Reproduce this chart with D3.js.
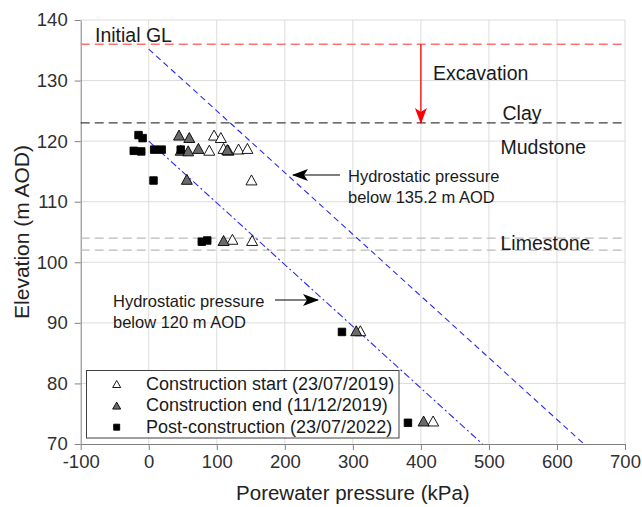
<!DOCTYPE html>
<html><head><meta charset="utf-8">
<script src="https://cdn.jsdelivr.net/npm/d3@7"></script>
<style>
body{margin:0;background:#fff;}
text{font-family:"Liberation Sans",Arial,sans-serif;}
</style></head>
<body><svg id="c" width="642" height="507"></svg>
<script>
// ---- data ----
const startP = [96, 106, 89, 110, 117, 132, 145, 151, 123, 152, 311, 418];
const startZ = [121, 120.6, 118.5, 118.8, 118.5, 118.7, 118.8, 113.6, 103.8, 103.6, 88.7, 73.8];
const endP = [44.5, 59.6, 47, 58, 73, 115.5, 56, 110, 305, 404];
const endZ = [121, 120.6, 118.5, 118.4, 118.8, 118.6, 113.7, 103.6, 88.7, 73.8];
const postP = [-15, -9, -22, -11, 8, 19, 47, 7, 78, 86, 284, 381];
const postZ = [121, 120.5, 118.4, 118.3, 118.6, 118.6, 118.6, 113.5, 103.4, 103.6, 88.5, 73.5];
const xTicks = [-100, 0, 100, 200, 300, 400, 500, 600, 700];
const yTicks = [70, 80, 90, 100, 110, 120, 130, 140];
const initialGL = 136, clayTop = 123, limeTop = 104, limeBot = 102;
const hydroTops = [135.2, 120];
const gammaW = 9.81;
const seriesNames = ["Construction start (23/07/2019)", "Construction end (11/12/2019)", "Post-construction (23/07/2022)"];

const svg = d3.select("#c");
const L = 80.7, R = 625, T = 20, B = 444;
const x = d3.scaleLinear().domain([-100, 700]).range([L, R]);
const y = d3.scaleLinear().domain([70, 140]).range([B, T]);

// grid
const g = svg.append("g");
g.selectAll(".gx").data(xTicks.slice(1)).enter().append("line")
  .attr("x1", d => x(d)).attr("x2", d => x(d)).attr("y1", T).attr("y2", B)
  .attr("stroke", "#dcdcdc").attr("stroke-width", 1);
g.selectAll(".gy").data(yTicks.slice(1)).enter().append("line")
  .attr("x1", L).attr("x2", R).attr("y1", d => y(d)).attr("y2", d => y(d))
  .attr("stroke", "#dcdcdc").attr("stroke-width", 1);

// axes
const fmt = d => String(d);
const xa = svg.append("g").attr("transform", `translate(0,${B})`)
  .call(d3.axisBottom(x).tickValues(xTicks).tickFormat(fmt).tickSize(6).tickSizeOuter(0).tickPadding(5));
const ya = svg.append("g").attr("transform", `translate(${L},0)`)
  .call(d3.axisLeft(y).tickValues(yTicks).tickFormat(fmt).tickSize(6).tickSizeOuter(0).tickPadding(7));
[xa, ya].forEach(a => {
  a.select(".domain").attr("stroke", "#808080");
  a.selectAll(".tick line").attr("stroke", "#808080");
  a.selectAll(".tick text").attr("font-size", 18.5).attr("fill", "#303030")
   .attr("font-family", "Liberation Sans, Arial, sans-serif");
});

// horizontal reference lines
function hline(z, col, w) {
  svg.append("line").attr("x1", L).attr("x2", R).attr("y1", y(z)).attr("y2", y(z))
    .attr("stroke", col).attr("stroke-width", w).attr("stroke-dasharray", "9,5");
}
hline(initialGL, "#ff7070", 1.3);
hline(clayTop, "#404040", 1.3);
hline(limeTop, "#bbbbbb", 1.3);
hline(limeBot, "#bbbbbb", 1.3);

// hydrostatic lines
hydroTops.forEach((zt, i) => {
  const pts = [[0, zt], [gammaW * (zt - 70), 70]];
  svg.append("line").attr("x1", x(pts[0][0])).attr("y1", y(pts[0][1]))
    .attr("x2", x(pts[1][0])).attr("y2", y(pts[1][1]))
    .attr("stroke", "#2a2af0").attr("stroke-width", 1.1)
    .attr("stroke-dasharray", i === 0 ? "6,4" : "7,3,2,3");
});

// arrow markers
const defs = svg.append("defs");
defs.append("marker").attr("id", "ar").attr("viewBox", "0 0 16 12").attr("refX", 15).attr("refY", 6)
  .attr("markerWidth", 16).attr("markerHeight", 12).attr("markerUnits", "userSpaceOnUse").attr("orient", "auto")
  .append("path").attr("d", "M0,0 L16,6 L0,12 L4,6 Z").attr("fill", "#ff0000");
defs.append("marker").attr("id", "ak").attr("viewBox", "0 0 16 12").attr("refX", 15).attr("refY", 6)
  .attr("markerWidth", 16).attr("markerHeight", 12).attr("markerUnits", "userSpaceOnUse").attr("orient", "auto")
  .append("path").attr("d", "M0,0 L16,6 L0,12 L4,6 Z").attr("fill", "#000");

// excavation arrow
svg.append("line").attr("x1", x(400)).attr("x2", x(400)).attr("y1", y(initialGL)).attr("y2", y(clayTop))
  .attr("stroke", "#ff0000").attr("stroke-width", 1.3).attr("marker-end", "url(#ar)");

// layer labels
function lab(t, px, py, fs) {
  svg.append("text").attr("x", px).attr("y", py).attr("font-size", fs).attr("fill", "#1a1a1a").text(t);
}
lab("Initial GL", 95, 41.5, 19.5);
lab("Excavation", 433, 80, 19.5);
lab("Clay", 502.5, 120, 19.5);
lab("Mudstone", 500.5, 154, 19.5);
lab("Limestone", 500.5, 250, 19.5);

// hydrostatic annotations
lab("Hydrostatic pressure", 348, 181.5, 16.5);
lab("below 135.2 m AOD", 348, 203.3, 16.5);
svg.append("line").attr("x1", 340).attr("x2", 293).attr("y1", 175).attr("y2", 175)
  .attr("stroke", "#000").attr("stroke-width", 1.2).attr("marker-end", "url(#ak)");
lab("Hydrostatic pressure", 113, 306.5, 16.5);
lab("below 120 m AOD", 113, 328, 16.5);
svg.append("line").attr("x1", 275).attr("x2", 318).attr("y1", 300).attr("y2", 300)
  .attr("stroke", "#000").attr("stroke-width", 1.2).attr("marker-end", "url(#ak)");

// markers
const tri = (w, h) => `M0,${-h / 2}L${w / 2},${h / 2}L${-w / 2},${h / 2}Z`;
const sq = s => `M${-s / 2},${-s / 2}h${s}v${s}h${-s}Z`;
function plot(P, Z, path, fill) {
  svg.append("g").selectAll("path").data(P.map((p, i) => [p, Z[i]])).enter().append("path")
    .attr("d", path).attr("transform", d => `translate(${x(d[0])},${y(d[1])})`)
    .attr("fill", fill).attr("stroke", "#000").attr("stroke-width", 0.9);
}
plot(startP, startZ, tri(11, 10), "#fff");
plot(endP, endZ, tri(11, 10), "#6a6a6a");
plot(postP, postZ, sq(7.5), "#000");

// legend
const lg = svg.append("g");
lg.append("rect").attr("x", 86.5).attr("y", 370.5).attr("width", 312.5).attr("height", 67.5)
  .attr("fill", "#fff").attr("stroke", "#404040").attr("stroke-width", 1);
const rows = [[tri(8, 7), "#fff"], [tri(8, 7), "#6a6a6a"], [sq(6), "#000"]];
rows.forEach((r, i) => {
  const cy = 384 + i * 21.6;
  lg.append("path").attr("d", r[0]).attr("transform", `translate(116.7,${cy})`)
    .attr("fill", r[1]).attr("stroke", "#000").attr("stroke-width", 0.9);
  lg.append("text").attr("x", 146).attr("y", cy + 5.5).attr("font-size", 18).attr("fill", "#1a1a1a").text(seriesNames[i]);
});

// axis titles
svg.append("text").attr("x", (L + R) / 2).attr("y", 500).attr("text-anchor", "middle")
  .attr("font-size", 20.5).attr("fill", "#222").text("Porewater pressure (kPa)");
svg.append("text").attr("transform", `translate(29,${(T + B) / 2}) rotate(-90)`).attr("text-anchor", "middle")
  .attr("font-size", 21).attr("fill", "#222").text("Elevation (m AOD)");
</script></body></html>
